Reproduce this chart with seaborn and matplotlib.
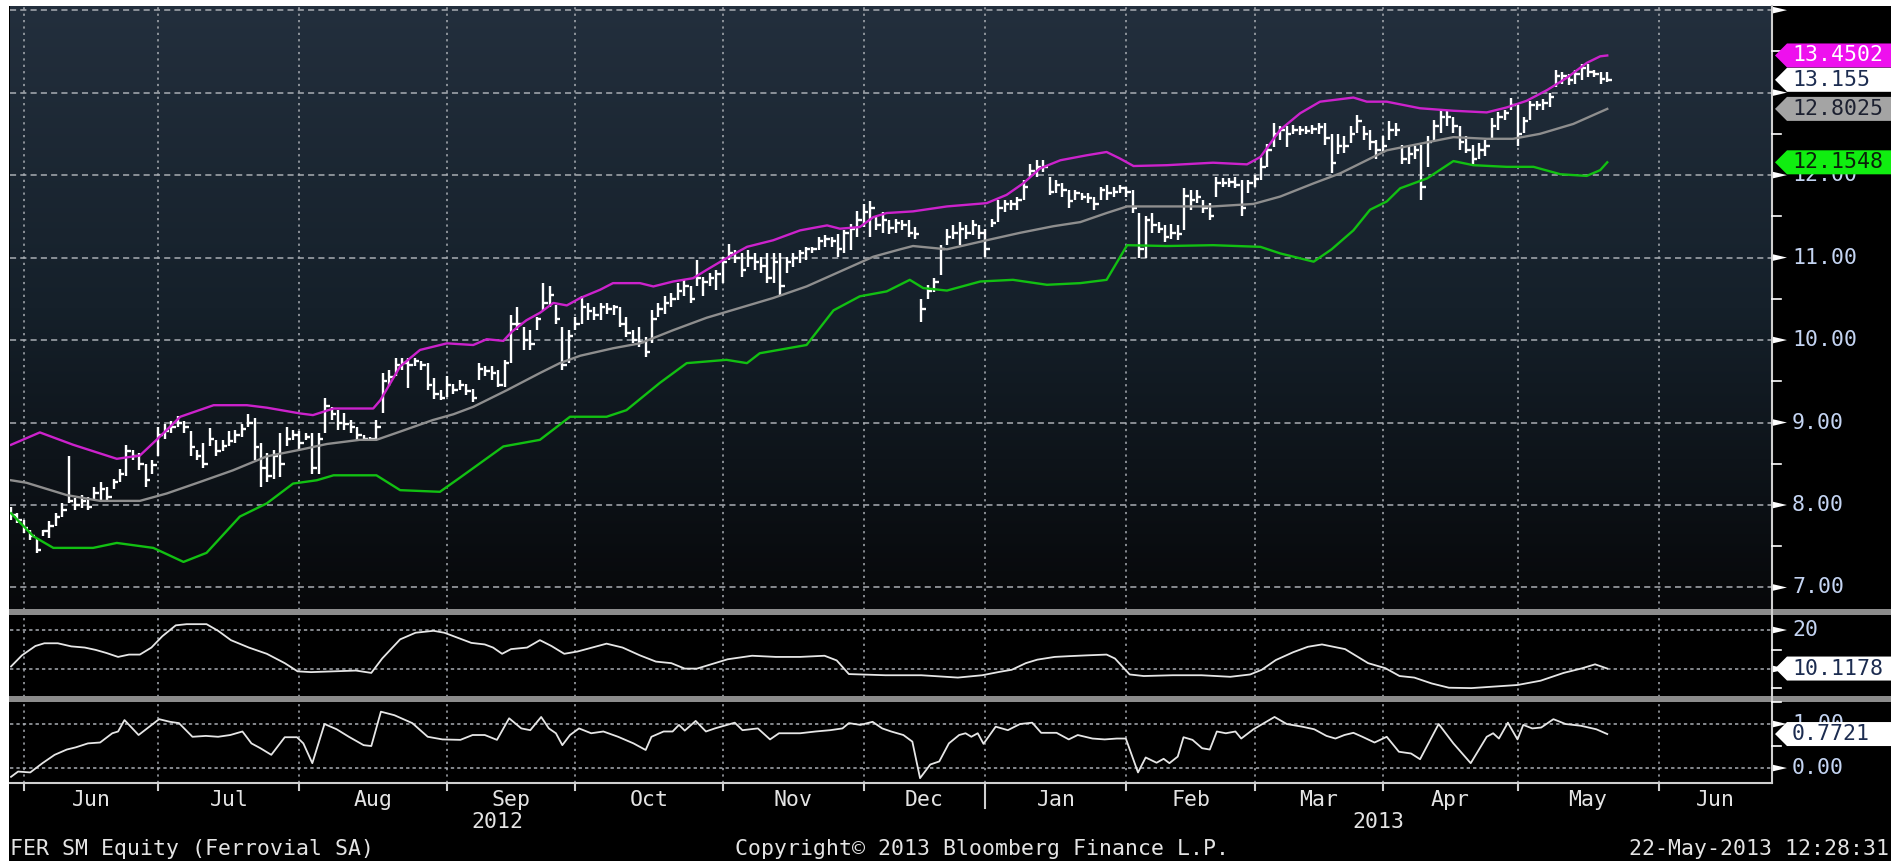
import numpy as np
import matplotlib
matplotlib.use("Agg")
import matplotlib.pyplot as plt
import seaborn as sns
from matplotlib.patches import Polygon, Rectangle
from matplotlib.colors import LinearSegmentedColormap

plt.rcParams['font.family'] = 'DejaVu Sans Mono'
plt.rcParams['lines.scale_dashes'] = False

# ---- axis: trading days per month (first entry = last days of May 2012)
month_days = [2, 21, 22, 23, 20, 23, 22, 19, 22, 20, 20, 21, 22]
month_labels = ['Jun', 'Jul', 'Aug', 'Sep', 'Oct', 'Nov', 'Dec',
                'Jan', 'Feb', 'Mar', 'Apr', 'May', 'Jun']
year_labels = ['2012', '2013']

# ---- FER SM daily bars (30-May-2012 .. 22-May-2013)
highs = [7.97, 7.90, 7.82, 7.70, 7.60, 7.70, 7.80, 7.90, 8.02, 8.60,
         8.08, 8.12, 8.10, 8.22, 8.28, 8.22, 8.32, 8.44, 8.73, 8.67,
         8.63, 8.50, 8.55, 8.95, 8.98, 9.02, 9.08, 9.02, 8.90, 8.67,
         8.75, 8.93, 8.79, 8.79, 8.90, 8.91, 8.98, 9.10, 9.06, 8.75,
         8.63, 8.67, 8.87, 8.95, 8.91, 8.90, 8.87, 8.87, 8.87, 9.30,
         9.19, 9.15, 9.11, 9.03, 8.95, 8.85, 8.83, 9.03, 9.60, 9.64,
         9.78, 9.78, 9.78, 9.78, 9.74, 9.72, 9.54, 9.39, 9.56, 9.47,
         9.51, 9.47, 9.41, 9.72, 9.68, 9.68, 9.64, 9.76, 10.30, 10.40,
         10.16, 10.12, 10.28, 10.69, 10.65, 10.43, 10.16, 10.12, 10.28, 10.53,
         10.45, 10.40, 10.45, 10.45, 10.43, 10.40, 10.28, 10.12, 10.16, 10.04,
         10.36, 10.45, 10.53, 10.57, 10.69, 10.73, 10.65, 10.97, 10.77, 10.81,
         10.85, 11.01, 11.17, 11.09, 11.05, 11.09, 11.05, 11.01, 11.05, 11.05,
         11.05, 11.01, 11.05, 11.09, 11.13, 11.13, 11.25, 11.27, 11.25, 11.29,
         11.33, 11.41, 11.57, 11.65, 11.69, 11.50, 11.55, 11.45, 11.47, 11.45,
         11.45, 11.37, 10.50, 10.67, 10.75, 11.15, 11.35, 11.39, 11.43, 11.39,
         11.45, 11.39, 11.35, 11.47, 11.70, 11.70, 11.70, 11.74, 11.94, 12.14,
         12.18, 12.18, 11.98, 11.94, 11.90, 11.82, 11.82, 11.78, 11.78, 11.74,
         11.86, 11.88, 11.86, 11.88, 11.86, 11.82, 11.54, 11.50, 11.54, 11.43,
         11.39, 11.41, 11.39, 11.84, 11.82, 11.82, 11.70, 11.66, 11.98, 11.96,
         11.96, 11.98, 11.94, 11.94, 12.00, 12.22, 12.38, 12.63, 12.59, 12.59,
         12.61, 12.59, 12.59, 12.61, 12.63, 12.63, 12.50, 12.50, 12.47, 12.59,
         12.73, 12.59, 12.55, 12.43, 12.47, 12.65, 12.63, 12.37, 12.35, 12.35,
         12.37, 12.47, 12.67, 12.79, 12.79, 12.71, 12.59, 12.47, 12.37, 12.39,
         12.43, 12.69, 12.77, 12.79, 12.93, 12.85, 12.71, 12.90, 12.90, 12.92,
         13.00, 13.27, 13.25, 13.23, 13.27, 13.35, 13.35, 13.27, 13.25, 13.25]
lows = [7.82, 7.78, 7.66, 7.58, 7.42, 7.62, 7.60, 7.74, 7.86, 8.02,
        7.94, 7.96, 7.94, 8.06, 8.06, 8.06, 8.20, 8.28, 8.35, 8.55,
        8.43, 8.22, 8.38, 8.60, 8.80, 8.87, 8.94, 8.87, 8.60, 8.55,
        8.45, 8.71, 8.59, 8.65, 8.71, 8.75, 8.83, 8.94, 8.55, 8.22,
        8.28, 8.32, 8.34, 8.71, 8.79, 8.67, 8.79, 8.38, 8.38, 8.87,
        9.03, 8.91, 8.91, 8.87, 8.79, 8.77, 8.77, 8.79, 9.11, 9.44,
        9.56, 9.64, 9.42, 9.68, 9.64, 9.40, 9.29, 9.27, 9.31, 9.34,
        9.39, 9.33, 9.25, 9.52, 9.56, 9.52, 9.43, 9.43, 9.72, 10.12,
        9.88, 9.88, 10.12, 10.36, 10.40, 10.20, 9.64, 9.72, 10.12, 10.20,
        10.24, 10.24, 10.24, 10.32, 10.30, 10.16, 10.04, 9.96, 9.92, 9.80,
        9.96, 10.28, 10.32, 10.40, 10.49, 10.53, 10.45, 10.65, 10.53, 10.65,
        10.61, 10.69, 10.97, 10.93, 10.77, 10.89, 10.85, 10.81, 10.69, 10.69,
        10.55, 10.81, 10.89, 10.93, 10.97, 11.05, 11.09, 11.13, 11.13, 11.01,
        11.05, 11.09, 11.25, 11.37, 11.25, 11.33, 11.30, 11.28, 11.30, 11.33,
        11.25, 11.23, 10.22, 10.50, 10.58, 10.79, 11.15, 11.23, 11.15, 11.23,
        11.27, 11.23, 11.01, 11.37, 11.43, 11.55, 11.58, 11.58, 11.70, 11.98,
        11.98, 12.04, 11.76, 11.78, 11.74, 11.60, 11.70, 11.70, 11.66, 11.58,
        11.70, 11.70, 11.74, 11.78, 11.74, 11.54, 11.00, 11.00, 11.30, 11.30,
        11.19, 11.23, 11.21, 11.33, 11.58, 11.66, 11.54, 11.45, 11.74, 11.86,
        11.86, 11.84, 11.50, 11.78, 11.86, 11.94, 12.10, 12.34, 12.42, 12.34,
        12.50, 12.49, 12.50, 12.50, 12.50, 12.37, 12.02, 12.26, 12.27, 12.39,
        12.51, 12.43, 12.31, 12.19, 12.27, 12.43, 12.47, 12.14, 12.14, 12.19,
        11.70, 12.10, 12.43, 12.51, 12.59, 12.51, 12.31, 12.27, 12.14, 12.19,
        12.23, 12.43, 12.55, 12.67, 12.79, 12.35, 12.51, 12.67, 12.79, 12.79,
        12.83, 13.07, 13.11, 13.09, 13.11, 13.15, 13.19, 13.19, 13.11, 13.13]
closes = [7.88, 7.82, 7.72, 7.62, 7.45, 7.68, 7.75, 7.85, 7.94, 8.05,
          8.00, 8.05, 7.98, 8.15, 8.20, 8.10, 8.28, 8.38, 8.65, 8.60,
          8.50, 8.30, 8.48, 8.85, 8.90, 8.95, 9.00, 8.95, 8.70, 8.60,
          8.50, 8.80, 8.65, 8.72, 8.78, 8.85, 8.92, 9.00, 8.70, 8.45,
          8.35, 8.60, 8.50, 8.80, 8.85, 8.75, 8.82, 8.45, 8.80, 9.20,
          9.10, 9.00, 8.98, 8.95, 8.85, 8.80, 8.80, 8.95, 9.50, 9.55,
          9.70, 9.72, 9.70, 9.75, 9.70, 9.45, 9.35, 9.30, 9.45, 9.40,
          9.45, 9.38, 9.30, 9.65, 9.62, 9.60, 9.45, 9.72, 10.20, 10.20,
          10.00, 9.95, 10.25, 10.45, 10.55, 10.25, 9.70, 10.05, 10.20, 10.40,
          10.35, 10.30, 10.40, 10.38, 10.40, 10.20, 10.08, 10.00, 9.98, 9.85,
          10.25, 10.38, 10.45, 10.50, 10.60, 10.65, 10.50, 10.75, 10.70, 10.75,
          10.80, 10.95, 11.05, 11.00, 10.85, 11.00, 10.95, 10.90, 10.75, 10.95,
          10.65, 10.95, 11.00, 11.05, 11.10, 11.10, 11.20, 11.22, 11.20, 11.10,
          11.30, 11.35, 11.45, 11.55, 11.60, 11.40, 11.45, 11.36, 11.42, 11.40,
          11.30, 11.28, 10.38, 10.60, 10.70, 11.10, 11.25, 11.30, 11.35, 11.30,
          11.40, 11.30, 11.10, 11.42, 11.60, 11.65, 11.65, 11.70, 11.85, 12.05,
          12.10, 12.10, 11.80, 11.88, 11.82, 11.68, 11.78, 11.74, 11.72, 11.65,
          11.82, 11.78, 11.80, 11.84, 11.80, 11.60, 11.10, 11.45, 11.40, 11.35,
          11.25, 11.30, 11.28, 11.75, 11.70, 11.74, 11.60, 11.50, 11.90, 11.90,
          11.92, 11.88, 11.60, 11.90, 11.95, 12.10, 12.30, 12.50, 12.55, 12.50,
          12.55, 12.55, 12.54, 12.56, 12.58, 12.45, 12.15, 12.35, 12.35, 12.50,
          12.65, 12.50, 12.40, 12.30, 12.35, 12.55, 12.55, 12.20, 12.25, 12.30,
          11.85, 12.40, 12.60, 12.70, 12.70, 12.60, 12.40, 12.30, 12.20, 12.30,
          12.35, 12.60, 12.70, 12.75, 12.85, 12.50, 12.65, 12.85, 12.85, 12.88,
          12.95, 13.20, 13.20, 13.15, 13.22, 13.30, 13.25, 13.22, 13.17, 13.155]

# ---- Bollinger bands (by trading-day index)
upper_idx = [0, 4.5, 9.7, 16.5, 20.1, 22.7, 26.4, 31.6, 36.8, 39.9,
             45.1, 47.1, 50.3, 56.5, 57.6, 60.7, 63.8, 68, 72.1, 74.2,
             76.8, 78.1, 80.4, 82.5, 84.6, 86.7, 88.8, 91.9, 93.9, 98.1,
             100.2, 103.3, 106.4, 108.5, 111.1, 114.8, 118.9, 123.1, 127.3, 129.3,
             132.4, 134.5, 136.6, 140.7, 146, 152.2, 155.3, 157.9, 160.5, 163.7,
             167.8, 170.9, 173, 175.1, 180.3, 187.5, 192.8, 194.9, 198, 201.1,
             204.2, 209.4, 211.5, 214.6, 219.8, 225, 230.2, 233.3, 236.4, 239.6,
             242.7, 245.8, 247.9, 249]
upper_val = [8.73, 8.88, 8.73, 8.56, 8.6, 8.79, 9.07, 9.21, 9.21, 9.18,
             9.11, 9.09, 9.17, 9.17, 9.27, 9.68, 9.88, 9.96, 9.94, 10.01,
             9.99, 10.1, 10.24, 10.33, 10.45, 10.42, 10.51, 10.61, 10.69, 10.69,
             10.65, 10.71, 10.75, 10.85, 10.97, 11.13, 11.21, 11.33, 11.39, 11.35,
             11.37, 11.49, 11.54, 11.56, 11.62, 11.66, 11.76, 11.9, 12.08, 12.18,
             12.24, 12.28, 12.2, 12.11, 12.12, 12.15, 12.13, 12.22, 12.55, 12.75,
             12.89, 12.94, 12.89, 12.89, 12.81, 12.78, 12.76, 12.82, 12.9, 13.03,
             13.18, 13.36, 13.44, 13.4502]
ma_idx = [0, 2.4, 8.7, 13.9, 20.1, 24.3, 29.5, 34.6, 39.9, 45.1,
          49.3, 54.4, 57, 60.7, 65.8, 69, 72.1, 77.3, 82.5, 85.6,
          88.8, 93.9, 98.1, 103.3, 108.5, 113.7, 118.9, 124.1, 129.3, 134.5,
          138.7, 140.7, 146, 152.2, 157.4, 162.6, 166.8, 170.9, 174.1, 187.5,
          193.8, 198, 203.2, 207.3, 209.4, 214.6, 219.8, 225, 230.2, 234.3,
          238.5, 243.7, 249]
ma_val = [8.3, 8.27, 8.12, 8.05, 8.05, 8.14, 8.28, 8.42, 8.59, 8.67,
          8.74, 8.79, 8.79, 8.89, 9.03, 9.1, 9.19, 9.39, 9.6, 9.72,
          9.81, 9.9, 9.96, 10.12, 10.27, 10.39, 10.51, 10.65, 10.83, 11.01,
          11.1, 11.14, 11.1, 11.21, 11.3, 11.38, 11.43, 11.54, 11.62, 11.62,
          11.65, 11.74, 11.9, 12.02, 12.1, 12.3, 12.38, 12.46, 12.44, 12.44,
          12.5, 12.62, 12.8025]
lower_idx = [0, 3.5, 6.6, 12.8, 16.5, 22.2, 26.9, 30.5, 35.7, 39.9,
             44, 47.7, 50.3, 57, 60.7, 66.9, 70, 76.8, 82.5, 87.2,
             92.9, 96, 101.2, 105.4, 111.6, 114.8, 116.8, 124.1, 128.3, 132.4,
             136.6, 140.2, 142.3, 146, 151.2, 156.3, 161.6, 166.8, 170.9, 174.1,
             180.3, 187.5, 194.9, 198, 203.2, 206, 209.4, 212, 214.6, 216.7,
             220.9, 225, 228.1, 233.3, 237.5, 241.7, 245.8, 247.9, 249]
lower_val = [7.9, 7.62, 7.48, 7.48, 7.54, 7.48, 7.31, 7.42, 7.86, 8.02,
             8.26, 8.3, 8.36, 8.36, 8.18, 8.16, 8.33, 8.71, 8.79, 9.07,
             9.07, 9.15, 9.48, 9.72, 9.76, 9.72, 9.84, 9.94, 10.36, 10.53,
             10.59, 10.73, 10.63, 10.6, 10.71, 10.73, 10.67, 10.69, 10.73, 11.15,
             11.14, 11.15, 11.13, 11.05, 10.95, 11.1, 11.33, 11.58, 11.68, 11.84,
             11.96, 12.17, 12.12, 12.1, 12.1, 12.01, 11.99, 12.06, 12.1548]

# ---- middle study panel
mid_idx = [0, 1.7, 3.8, 5.2, 7.3, 9.4, 11.5, 13.2, 14.9, 16.7,
           18.4, 20.1, 21.9, 23.6, 25.7, 27.4, 30.5, 32.3, 34.3, 37.1,
           39.9, 42.7, 44.7, 46.8, 50.3, 53.8, 56.2, 57.9, 60.7, 63.1,
           65.9, 67.6, 69.7, 71.8, 73.9, 75.2, 76.6, 78, 80.5, 82.5,
           84.3, 86.3, 88.4, 92.9, 95.4, 98.1, 100.6, 103, 105.1, 107,
           111.8, 115.6, 119.3, 123.1, 126.9, 128.8, 130.7, 136.4, 142, 147.7,
           151.5, 154.3, 156.1, 158.3, 160.1, 162.8, 165.1, 167.8, 170.9, 172.2,
           174.5, 176.7, 181.2, 185.7, 190.2, 193.3, 195.1, 197.3, 200, 202.3,
           204.5, 208.1, 211.7, 214.4, 216.6, 218.9, 221.6, 224.3, 227.8, 231.4,
           235, 238.6, 242.2, 244.9, 247.1, 249]
mid_val = [10.65, 13.5, 15.9, 16.6, 16.6, 15.8, 15.5, 14.9, 14.1, 13.1,
           13.7, 13.7, 15.5, 18.4, 21.2, 21.5, 21.5, 19.8, 17.4, 15.5,
           13.9, 11.5, 9.4, 9.2, 9.4, 9.6, 9.0, 12.7, 17.6, 19.3,
           19.8, 19.3, 18.0, 16.7, 16.3, 15.5, 13.9, 15.1, 15.5, 17.4,
           15.9, 13.9, 14.5, 16.5, 15.5, 13.5, 11.9, 11.5, 10.1, 10.1,
           12.5, 13.4, 13.1, 13.1, 13.4, 12.2, 8.7, 8.4, 8.4, 7.8,
           8.4, 9.3, 9.8, 11.5, 12.4, 13.1, 13.3, 13.5, 13.7, 12.7,
           8.6, 8.2, 8.4, 8.4, 8.0, 8.6, 9.8, 12.3, 14.3, 15.7,
           16.3, 15.1, 11.5, 10.2, 8.2, 7.8, 6.3, 5.2, 5.1, 5.5,
           5.9, 7.0, 9.0, 10.1, 11.2, 10.1178]

# ---- bottom study panel
osc_idx = [0, 1.1, 3.0, 4.9, 6.8, 8.7, 10.1, 12.0, 13.9, 15.8,
           16.7, 17.7, 19.9, 21.4, 23.1, 24.8, 26.2, 28.3, 30.4, 32.3,
           34.2, 36.1, 37.5, 38.9, 40.6, 42.7, 44.6, 45.6, 47.0, 48.9,
           50.8, 52.7, 55.0, 56.2, 57.7, 59.8, 62.6, 65.0, 67.3, 70.1,
           72.0, 73.9, 75.8, 77.7, 79.6, 81.0, 82.7, 83.9, 85.0, 86.0,
           87.2, 88.6, 90.5, 92.4, 94.7, 97.1, 99.0, 99.9, 101.8, 103.2,
           104.2, 105.1, 106.8, 108.4, 109.8, 111.7, 112.9, 114.1, 116.5, 118.4,
           119.8, 123.1, 125.5, 127.8, 129.7, 130.7, 132.5, 134.4, 135.9, 137.3,
           139.2, 140.6, 141.8, 143.4, 144.8, 146.3, 147.9, 148.9, 149.8, 150.8,
           151.7, 153.6, 155.5, 157.4, 159.3, 160.7, 163.1, 165, 166.4, 168.7,
           170.6, 172.5, 173.9, 175.8, 177, 178.7, 179.8, 180.7, 182, 182.9,
           184.3, 185.8, 187, 188.1, 189.5, 191, 191.9, 193.8, 195.2, 197.1,
           199, 201.4, 203.3, 205.2, 206.6, 208, 209.4, 210.8, 212.7, 214.6,
           216.5, 218.4, 219.8, 222.7, 225, 227.7, 230.2, 231.2, 232.1, 233.5,
           235, 235.9, 237.3, 238.7, 240.6, 242.5, 244.9, 247.3, 249]
osc_val = [-0.2, -0.08, -0.1, 0.11, 0.3, 0.42, 0.47, 0.56, 0.58, 0.79,
           0.83, 1.09, 0.75, 0.92, 1.11, 1.05, 1.02, 0.71, 0.73, 0.71,
           0.75, 0.83, 0.56, 0.45, 0.3, 0.7, 0.7, 0.56, 0.11, 1.0,
           0.88, 0.71, 0.52, 0.5, 1.28, 1.2, 1.02, 0.71, 0.65, 0.64,
           0.75, 0.75, 0.64, 1.13, 0.9, 0.86, 1.16, 0.9, 0.79, 0.52,
           0.75, 0.9, 0.79, 0.83, 0.71, 0.56, 0.41, 0.71, 0.83, 0.83,
           0.98, 0.85, 1.07, 0.83, 0.9, 0.98, 1.03, 0.86, 0.9, 0.65,
           0.79, 0.79, 0.83, 0.86, 0.9, 1.02, 0.98, 1.05, 0.9, 0.83,
           0.75, 0.6, -0.23, 0.08, 0.15, 0.56, 0.75, 0.79, 0.71, 0.79,
           0.55, 0.94, 0.86, 1.0, 1.03, 0.8, 0.8, 0.65, 0.75, 0.67,
           0.65, 0.67, 0.67, -0.1, 0.24, 0.12, 0.21, 0.11, 0.26, 0.7,
           0.64, 0.45, 0.42, 0.83, 0.79, 0.83, 0.67, 0.88, 1.0, 1.16,
           1.0, 0.94, 0.88, 0.73, 0.67, 0.75, 0.8, 0.71, 0.58, 0.71,
           0.37, 0.33, 0.2, 1.0, 0.56, 0.11, 0.71, 0.79, 0.67, 1.03,
           0.65, 0.98, 0.9, 0.92, 1.11, 1.0, 0.96, 0.88, 0.7721]

# ------------------------------------------------------------------
W, H = 1901, 861
XMIN, XMAX = -0.16, 274.7
fig = plt.figure(figsize=(W / 100, H / 100), dpi=100, facecolor='white')
fig.patches.append(Rectangle((9 / W, 0), (1891 - 9) / W, (H - 6) / H,
                             transform=fig.transFigure, facecolor='black',
                             edgecolor='none', zorder=-10))


def box(top, bottom):
    return [10 / W, 1 - bottom / H, 1762 / W, (bottom - top) / H]


bg = fig.add_axes(box(6, 610), zorder=0)
cmap = LinearSegmentedColormap.from_list('bb', ['#232f3d', '#15202a', '#07080a'])
bg.imshow(np.linspace(0, 1, 256).reshape(-1, 1), cmap=cmap, aspect='auto',
          extent=(0, 1, 0, 1), origin='upper')
bg.axis('off')

ax = fig.add_axes(box(6, 610), zorder=1)
ax.patch.set_visible(False)
ax_mid = fig.add_axes(box(615, 697), zorder=1, facecolor='black')
ax_osc = fig.add_axes(box(702, 783), zorder=1, facecolor='black')

month_start = np.cumsum(month_days)
bar_x = np.arange(len(closes))

# price bars
ax.vlines(bar_x, lows, highs, color='white', lw=1.7, zorder=3)
ax.hlines(closes, bar_x, bar_x + 0.7, color='white', lw=1.7, zorder=3)

sns.lineplot(x=upper_idx, y=upper_val, ax=ax, color='#cc22cc', linewidth=1.7, legend=False, zorder=4)
sns.lineplot(x=ma_idx, y=ma_val, ax=ax, color='#8e8e8e', linewidth=1.7, legend=False, zorder=4)
sns.lineplot(x=lower_idx, y=lower_val, ax=ax, color='#12c012', linewidth=1.7, legend=False, zorder=4)
sns.lineplot(x=mid_idx, y=mid_val, ax=ax_mid, color='#e6e6e6', linewidth=1.3, legend=False, zorder=4)
sns.lineplot(x=osc_idx, y=osc_val, ax=ax_osc, color='#e6e6e6', linewidth=1.3, legend=False, zorder=4)

limits = {ax: (6.727, 14.05), ax_mid: (2.82, 23.85), ax_osc: (-0.34, 1.5)}
hgrid = {ax: range(7, 15), ax_mid: [10, 20], ax_osc: [0, 1]}
for a, (lo, hi) in limits.items():
    a.set_xlim(XMIN, XMAX)
    a.set_ylim(lo, hi)
    a.set_xticks([])
    a.set_yticks([])
    a.set_xlabel('')
    a.set_ylabel('')
    for s in a.spines.values():
        s.set_visible(False)
    for k in month_start:
        a.axvline(k, color='#a9adb3', lw=1.1, ls=(0, (1.6, 3.0)), zorder=1)
    dash = (0, (4.4, 3.0)) if a is ax else (0, (2.4, 2.2))
    for v in hgrid[a]:
        a.axhline(v, color='#a9adb3', lw=1.1, ls=dash, zorder=1)

# ---- overlay in pixel coordinates for axis furniture
ov = fig.add_axes([0, 0, 1, 1], zorder=10)
ov.set_xlim(0, W)
ov.set_ylim(H, 0)
ov.axis('off')


def py(a, v):
    return H - a.transData.transform((0, v))[1]


def px(k):
    return ax.transData.transform((k, 0))[0]


FS = 15.5
lab_col = '#c4d4f2'
txt_col = '#e4e4e4'

for y0 in (609, 696):
    ov.add_patch(Rectangle((9, y0), 1882, 6, facecolor='#8c8c8c', edgecolor='none'))
ov.plot([1772, 1772], [6, 783], color='#cfcfcf', lw=1.5)
ov.plot([10, 1772], [783, 783], color='#cfcfcf', lw=1.5)


def major(a, v, label):
    y = py(a, v)
    ov.add_patch(Polygon([(1772, y - 3.5), (1772, y + 3.5), (1787, y)],
                         closed=True, facecolor='white', edgecolor='none'))
    if label:
        ov.text(1792, y, label, color=lab_col, fontsize=FS, va='center', ha='left')


def minor(a, v):
    y = py(a, v)
    ov.plot([1772, 1781], [y, y], color='white', lw=1.2)


# 13.00 and 10 sit fully under value tags in the reference, so only the tick marks
for v in range(7, 15):
    major(ax, v, '%.2f' % v if v <= 12 else '')
for v in np.arange(7.5, 14, 1.0):
    minor(ax, v)
major(ax_mid, 20, '20')
major(ax_mid, 10, '')
minor(ax_mid, 5)
minor(ax_mid, 15)
major(ax_osc, 0, '0.00')
major(ax_osc, 1, '1.00')
minor(ax_osc, 0.5)
minor(ax_osc, 1.5)


def tag(a, v, text, face, tc):
    y = py(a, v)
    ov.add_patch(Polygon([(1775, y), (1787, y - 12), (1891, y - 12), (1891, y + 12), (1787, y + 12)],
                         closed=True, facecolor=face, edgecolor='none', zorder=5))
    ov.text(1792, y, text, color=tc, fontsize=FS, va='center', ha='left', zorder=6)


tag(ax, upper_val[-1], '13.4502', '#ee10ee', 'white')
tag(ax, closes[-1], '13.155', 'white', '#1c2c50')
tag(ax, ma_val[-1], '12.8025', '#a4a4a4', '#1c2030')
tag(ax, lower_val[-1], '12.1548', '#10ee10', '#0a200a')
tag(ax_mid, mid_val[-1], '10.1178', 'white', '#1c2c50')
tag(ax_osc, osc_val[-1], '0.7721', 'white', '#1c2c50')

# x axis: month ticks and labels
ends = list(month_start[1:]) + [XMAX]
for i, k in enumerate(month_start):
    x = px(k)
    ov.plot([x, x], [783, 808 if i == 7 else 790], color='#cfcfcf', lw=1.5)
    ov.text(px((k + ends[i]) / 2), 800, month_labels[i], color=txt_col,
            fontsize=FS, ha='center', va='center')
ov.text(px((XMIN + month_start[7]) / 2), 822, year_labels[0], color=txt_col,
        fontsize=FS, ha='center', va='center')
ov.text(px((month_start[7] + XMAX) / 2), 822, year_labels[1], color=txt_col,
        fontsize=FS, ha='center', va='center')

ov.text(10, 849, 'FER SM Equity (Ferrovial SA)', color=txt_col, fontsize=FS, ha='left', va='center')
ov.text(735, 849, 'Copyright\u00a9 2013 Bloomberg Finance L.P.', color=txt_col, fontsize=FS,
        ha='left', va='center')
ov.text(1889, 849, '22-May-2013 12:28:31', color=txt_col, fontsize=FS, ha='right', va='center')

fig.savefig('out.png', dpi=100, facecolor=fig.get_facecolor())
